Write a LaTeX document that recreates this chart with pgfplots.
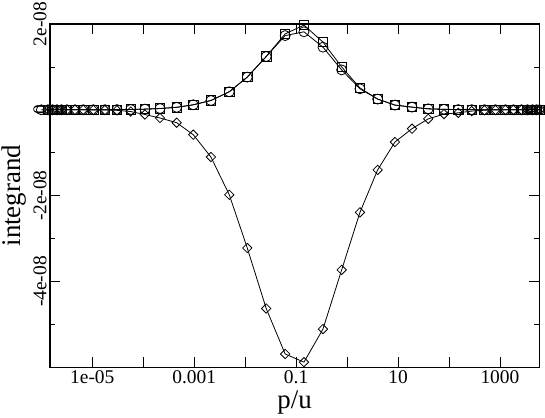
\documentclass[border=0pt]{standalone}
\usepackage{fontspec}
\setmainfont{Liberation Serif}
\usepackage{pgfplots}
\pgfplotsset{compat=1.18}
\begin{document}
\begin{tikzpicture}
\begin{axis}[
 scale only axis, width=489.3bp, height=343.3bp,
 xmode=log, log basis x=10,
 xmin=1.48e-6, xmax=5.92e3,
 ymin=-6e-8, ymax=2e-8,
 xtickten={-5,-4,...,3},
 xticklabels={1e-05,,0.001,,0.1,,10,,1000},
 ytick={-4e-8,-2e-8,0,2e-8},
 yticklabels={-4e-08,-2e-08,0,2e-08},
 minor ytick={-5e-8,-3e-8,-1e-8,1e-8},
 scaled y ticks=false,
 tick align=inside,
 major tick length=10bp, minor tick length=5bp,
 tick style={black, line width=0.8bp},
 axis line style={line width=1.2bp},
 ticklabel style={font=\fontsize{19.5}{22}\selectfont},
 yticklabel style={rotate=90, anchor=south},
 xlabel={p/u}, ylabel={integrand},
 label style={font=\fontsize{27}{30}\selectfont},
 clip=false,
 every axis plot/.append style={black, line width=0.8bp, mark options={solid, line width=0.8bp}},
]
% squares
\addplot[mark=square, mark size=4.7bp] table {
x y
1.35e-6 0
1.66e-6 0
2.03e-6 0
2.49e-6 0
3.19e-6 0
4.58e-6 0
6.65e-6 0.001e-8
1.05e-5 0.002e-8
1.77e-5 0.003e-8
3.05e-5 0.005e-8
5.68e-5 0.008e-8
1.08e-4 0.016e-8
2.13e-4 0.03e-8
4.53e-4 0.058e-8
9.59e-4 0.117e-8
2.13e-3 0.217e-8
4.88e-3 0.42e-8
1.10e-2 0.762e-8
2.59e-2 1.242e-8
6.10e-2 1.77e-8
0.1426 1.974e-8
0.3365 1.578e-8
0.783 1.00e-8
1.79 0.51e-8
3.98 0.25e-8
8.71 0.11e-8
18.8 0.063e-8
39.2 0.023e-8
79.8 0.012e-8
152 0.005e-8
279 0.003e-8
497 0.002e-8
817 0.001e-8
1282 0
1841 0
2642 0
3467 0
4345 0
5200 0
5970 0
};
% circles
\addplot[mark=o, mark size=5bp] table {
x y
1.0e-6 0
1.35e-6 0
1.66e-6 0
2.03e-6 0
2.49e-6 0
3.19e-6 0
4.58e-6 0
6.65e-6 0.001e-8
1.05e-5 0.002e-8
1.77e-5 0.003e-8
3.05e-5 0.005e-8
5.68e-5 0.008e-8
1.08e-4 0.016e-8
2.13e-4 0.03e-8
4.53e-4 0.058e-8
9.59e-4 0.117e-8
2.13e-3 0.217e-8
4.88e-3 0.42e-8
1.10e-2 0.762e-8
2.59e-2 1.242e-8
6.10e-2 1.73e-8
0.1426 1.818e-8
0.3365 1.46e-8
0.783 0.93e-8
1.79 0.49e-8
3.98 0.25e-8
8.71 0.11e-8
18.8 0.063e-8
39.2 0.023e-8
79.8 0.012e-8
152 0.005e-8
279 0.003e-8
497 0.002e-8
817 0.001e-8
1282 0
1841 0
2642 0
3467 0
4345 0
5200 0
5970 0
};
% diamonds
\addplot[mark=square, mark size=3.3bp, mark options={rotate=45}] table {
x y
1.35e-6 0
1.66e-6 0
2.03e-6 0
2.49e-6 0
3.19e-6 0
4.58e-6 0
6.65e-6 0
1.05e-5 -0.002e-8
1.77e-5 -0.005e-8
3.05e-5 -0.012e-8
5.68e-5 -0.04e-8
1.08e-4 -0.11e-8
2.13e-4 -0.19e-8
4.53e-4 -0.30e-8
9.59e-4 -0.58e-8
2.13e-3 -1.10e-8
4.88e-3 -1.98e-8
1.10e-2 -3.22e-8
2.59e-2 -4.63e-8
6.10e-2 -5.69e-8
0.1426 -5.88e-8
0.3365 -5.11e-8
0.783 -3.73e-8
1.79 -2.39e-8
3.98 -1.40e-8
8.71 -0.75e-8
18.8 -0.44e-8
39.2 -0.21e-8
79.8 -0.10e-8
152 -0.07e-8
279 -0.03e-8
497 -0.01e-8
817 -0.004e-8
1282 0
1841 0
2642 0
3467 0
4345 0
5200 0
5970 0
};
\end{axis}
\pgfresetboundingbox
\path ([xshift=-50bp,yshift=-50.7bp]current axis.south west) rectangle ([xshift=5.7bp,yshift=24bp]current axis.north east);
\end{tikzpicture}
\end{document}
